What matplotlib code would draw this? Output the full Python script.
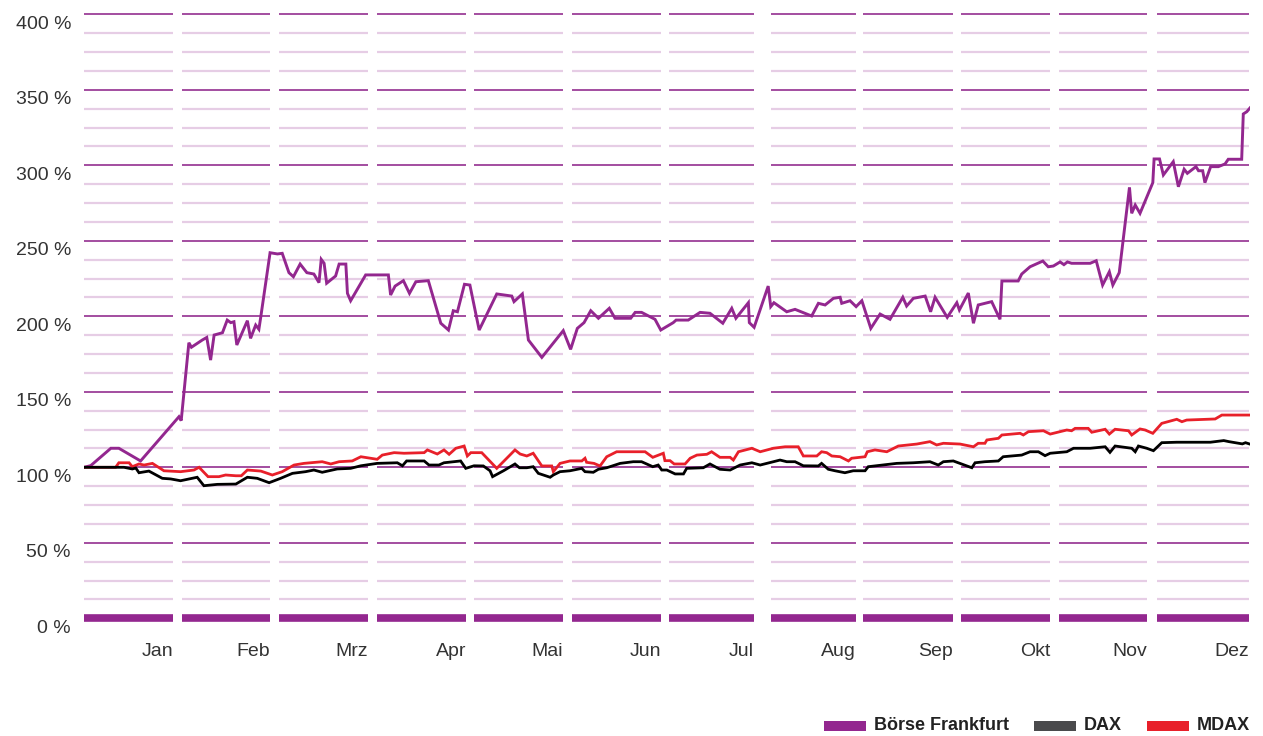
import matplotlib
matplotlib.use("Agg")
import matplotlib.pyplot as plt
from matplotlib.patches import Rectangle
from matplotlib.transforms import offset_copy

plt.rcParams["font.family"] = ["Liberation Sans", "DejaVu Sans"]

# x axis: day of the year (0..365), y axis: index level in % (start = 100 %)
MONTHS = ["Jan", "Feb", "Mrz", "Apr", "Mai", "Jun", "Jul", "Aug", "Sep", "Okt", "Nov", "Dez"]
MONTH_START = [0.0, 30.6, 61.0, 91.6, 122.0, 152.5, 183.0, 214.8, 243.8, 274.3, 305.0, 335.5]
MONTH_END = [27.8, 58.3, 88.8, 119.5, 149.7, 180.4, 209.6, 241.5, 271.7, 302.2, 332.5, 364.4]

BOERSE_DAY = [0, 2.1, 8.4, 10.9, 17.7, 29.7, 30.4, 31.3, 32.8, 33.6, 37.0, 38.4, 39.6, 40.7,
              43.3, 44.8, 45.9, 46.9, 47.8, 51.1, 52.1, 53.7, 54.7, 55.3, 58.2, 59.4, 60.5,
              62.0, 64.1, 65.5, 67.6, 69.7, 71.9, 73.5, 74.2, 75.1, 75.9, 78.7, 79.8, 81.9,
              82.4, 83.4, 88.1, 95.2, 95.9, 97.3, 99.9, 101.8, 103.8, 107.7, 111.6, 114.0,
              115.5, 116.8, 119.0, 120.7, 123.6, 129.1, 133.8, 134.5, 137.1, 139.0, 143.2,
              149.9, 152.2, 154.3, 156.4, 158.5, 160.9, 164.3, 166.1, 171.0, 172.4, 174.4,
              178.6, 180.4, 184.3, 185.2, 189.0, 192.7, 195.8, 199.8, 202.6, 203.9, 207.8,
              208.1, 209.6, 214.0, 214.8, 215.8, 219.8, 222.4, 227.6, 229.7, 231.8, 234.4,
              236.5, 237.0, 239.6, 241.5, 243.3, 246.1, 249.0, 252.1, 256.1, 257.3, 259.4,
              263.1, 264.8, 266.2, 270.0, 273.0, 273.8, 276.6, 278.2, 279.7, 283.9, 286.5,
              287.1, 292.2, 293.3, 295.9, 299.9, 301.6, 303.2, 305.3, 306.5, 307.6, 308.9,
              314.7, 316.6, 318.6, 320.7, 321.8, 323.8, 327.0, 327.7, 328.8, 330.3, 334.3,
              334.7, 336.4, 337.6, 340.7, 342.3, 344.1, 345.1, 347.8, 348.6, 349.9, 350.6,
              352.4, 354.8, 356.9, 357.9, 362.1, 362.6, 363.7, 364.7]
BOERSE_PCT = [100, 101.1, 112.6, 112.6, 104.2, 133.5, 130.9, 150, 182.5, 179.5, 184.3, 186,
              171, 187.6, 189.1, 197.5, 195.8, 196.4, 181, 197.1, 185.4, 194.2, 191.4, 199.7,
              242.1, 241.7, 241.3, 241.7, 228.9, 226.2, 234.6, 228.9, 228, 222.3, 237.7, 235.1,
              221.9, 226.7, 234.6, 234.6, 215.2, 210.3, 227.4, 227.4, 214.1, 220, 223.6, 215.2,
              222.9, 223.6, 195.4, 190.9, 203.7, 203, 221.2, 220.7, 190.9, 214.8, 213.4, 209.7,
              214.8, 184.3, 172.8, 190.5, 178.1, 192, 195.8, 203.7, 198.7, 205.3, 198.7, 198.7,
              202.6, 202.6, 198, 190.9, 195.8, 197.5, 197.5, 202.6, 202, 195.4, 205.3, 198.7,
              209, 195.8, 192.7, 220, 206.4, 209, 203, 204.6, 200.2, 208.6, 207.5, 211.9, 212.6,
              208.6, 210.3, 206.4, 210.3, 192, 201.5, 198, 212.6, 206.8, 211.9, 213.4, 203,
              212.6, 199.3, 209, 204.2, 215.4, 195.4, 207.5, 209.7, 198, 223.4, 223.4, 228,
              232.8, 236.6, 232.8, 233.3, 236, 234.2, 236, 235.1, 235.1, 236.8, 220.7, 229.5,
              220.7, 228.9, 285.4, 268.2, 273.7, 268.2, 288.5, 304.2, 304.2, 293.6, 302.4,
              285.8, 297.4, 294.7, 299.1, 296.4, 296.4, 288.5, 299.1, 299.1, 300.9, 304, 304,
              334, 335.5, 338]

DAX_DAY = [0, 12.5, 15.1, 16.2, 17.2, 20.3, 24.5, 27.1, 30.2, 35.4, 37.5, 41.7, 47.5, 51.1,
           54.2, 57.9, 61.5, 65.2, 69.3, 71.9, 74.5, 79.2, 83.4, 86.6, 91.7, 98.0, 99.6,
           100.9, 106.4, 107.9, 111.0, 112.6, 117.8, 119.4, 122.0, 124.9, 127.0, 127.8,
           131.2, 134.8, 136.2, 138.5, 140.5, 142.1, 145.8, 146.8, 148.9, 152.0, 155.7,
           156.7, 159.3, 160.9, 163.5, 167.7, 171.8, 174.4, 177.9, 179.6, 180.7, 182.3,
           184.9, 187.5, 188.5, 193.7, 195.8, 198.9, 202.1, 205.2, 208.9, 211.5, 217.7,
           219.8, 222.4, 225.0, 229.7, 230.7, 232.8, 234.9, 238.0, 240.6, 244.3, 245.3,
           254.2, 259.4, 264.6, 267.2, 268.8, 271.9, 277.7, 278.7, 281.8, 286.0, 287.5,
           293.3, 295.9, 298.5, 300.6, 302.2, 307.4, 309.5, 314.7, 319.4, 320.9, 322.5,
           327.7, 328.8, 329.8, 332.4, 334.5, 337.1, 341.8, 352.3, 356.5, 358.1, 362.3,
           363.3, 364.9]
DAX_PCT = [100, 100, 98.9, 99.5, 96.4, 97.5, 92.7, 92.3, 91.1, 93.4, 87.8, 88.7, 88.9, 93.4,
           92.7, 89.8, 92.7, 96, 97.1, 98.2, 96.7, 98.9, 99.3, 101, 102.6, 103, 101, 104.2,
           104.2, 101.5, 101.5, 103, 104.2, 99.3, 101, 100.9, 97.7, 93.8, 97.7, 102.2, 99.7,
           99.7, 100.4, 96, 93.4, 94.9, 97.1, 97.7, 99.3, 97.1, 96.7, 98.7, 99.7, 102.6,
           103.7, 103.7, 100.4, 101.5, 98.2, 98.2, 95.6, 95.6, 99.3, 99.7, 102.2, 98.7, 98.2,
           101.5, 103, 101.5, 104.8, 103.7, 103.7, 101, 100.9, 102.6, 98.7, 97.7, 96.4, 97.7,
           97.7, 100.4, 102.6, 103, 103.7, 101.5, 103.7, 104.2, 99.7, 103, 103.7, 104.2, 107,
           108.1, 110.3, 110.3, 107.7, 109.3, 110.3, 112.6, 112.6, 113.6, 109.9, 114.1, 112.6,
           110.3, 114.1, 112.6, 111, 116.3, 116.6, 116.6, 117.7, 117, 115.5, 116.3, 115.2]

MDAX_DAY = [0, 9.9, 10.9, 14.1, 15.1, 17.2, 18.8, 21.4, 25.0, 30.2, 34.4, 36.0, 38.8, 42.2,
            44.3, 47.5, 49.2, 51.1, 55.3, 58.9, 62.0, 65.7, 68.8, 74.5, 77.2, 79.8, 83.9,
            86.6, 91.7, 93.3, 97.0, 100.1, 106.4, 107.4, 110.5, 112.6, 114.2, 116.3, 118.9,
            119.9, 121.0, 124.4, 129.1, 134.8, 136.4, 138.5, 140.5, 143.2, 146.3, 146.8,
            148.9, 152.0, 155.7, 156.7, 157.2, 159.5, 161.4, 163.5, 166.6, 175.5, 177.9,
            181.2, 181.7, 183.3, 184.6, 188.0, 189.6, 191.7, 194.8, 196.3, 198.9, 202.1,
            203.1, 204.7, 208.9, 211.5, 215.6, 219.3, 223.4, 225.0, 229.2, 230.7, 232.3,
            233.9, 236.5, 239.1, 240.1, 242.7, 244.3, 245.0, 247.4, 251.1, 254.7, 260.5,
            264.6, 266.7, 268.8, 274.0, 278.2, 279.7, 281.8, 282.4, 286.0, 287.1, 292.8,
            293.8, 295.4, 300.1, 302.2, 307.4, 308.9, 310.0, 314.1, 315.2, 319.4, 320.7,
            322.5, 326.7, 327.7, 330.3, 331.9, 334.3, 337.1, 341.8, 343.4, 344.9, 353.8,
            355.9, 364.7]
MDAX_PCT = [100, 100, 103, 103, 100.4, 102.2, 101.5, 102.6, 97.7, 97.1, 98.2, 100, 93.8, 93.8,
            94.9, 94.4, 94.4, 98.2, 97.5, 94.9, 97.1, 101.5, 102.6, 103.7, 102.2, 103.7,
            104.2, 107, 105.3, 108.1, 109.7, 109.3, 109.7, 111.5, 108.8, 111.5, 108.6, 112.6,
            114.1, 107.5, 109.7, 109.7, 99.3, 111.5, 108.8, 107.5, 109.3, 100.9, 100.9, 97.1,
            102.6, 104.2, 104.2, 106, 103.3, 102.6, 100.9, 107, 110.3, 110.3, 106.6, 109.3,
            104.4, 104.4, 102.2, 102.2, 106, 108.1, 108.6, 110.3, 106.6, 106.6, 104.8, 110.3,
            112.6, 110.3, 112.6, 113.6, 113.6, 107.5, 107.5, 110.3, 109.7, 107.5, 107, 104.2,
            106, 106.6, 107, 110.3, 111.5, 110.3, 114.1, 115.4, 117, 114.8, 115.9, 115.4,
            113.6, 115.9, 115.9, 118.1, 119.2, 121.4, 122.5, 121.4, 123.6, 124.2, 122, 124.7,
            124.2, 125.8, 125.8, 123.2, 125.2, 122, 125.2, 124.2, 121.4, 125.4, 124.7, 122.5,
            129.1, 131.8, 130.2, 131.3, 132, 134.6, 134.6]

Y_MAJOR = [50, 100, 150, 200, 250, 300, 350, 400]
Y_MINOR = [v + k * 12.5 for v in range(0, 400, 50) for k in (1, 2, 3)]

PURPLE = "#93278f"
GRID_MAJOR = "#9c3f98"
GRID_MINOR = "#e6cde5"
RED = "#e8202a"
TEXT = "#333333"
DPI = 100

fig = plt.figure(figsize=(12.63, 7.36), dpi=DPI)
ax = fig.add_axes([84 / 1263, 117.7 / 736, 1166 / 1263, 604 / 736])
ax.set_xlim(0, 364.7)
ax.set_ylim(0, 400)
ax.axis("off")

# grid broken into one segment per month
for start, end in zip(MONTH_START, MONTH_END):
    ax.hlines(Y_MINOR, start, end, color=GRID_MINOR, linewidth=1.6, zorder=1)
    ax.hlines(Y_MAJOR, start, end, color=GRID_MAJOR, linewidth=1.3, zorder=1, clip_on=False)
    ax.hlines(0, start, end, color=PURPLE, linewidth=5.5, zorder=1, clip_on=False)

ax.plot(BOERSE_DAY, BOERSE_PCT, color=PURPLE, linewidth=2.1, zorder=3, solid_joinstyle="miter")
ax.plot(MDAX_DAY, MDAX_PCT, color=RED, linewidth=2.0, zorder=4, solid_joinstyle="miter")
ax.plot(DAX_DAY, DAX_PCT, color="black", linewidth=2.0, zorder=5, solid_joinstyle="miter")

ytrans = offset_copy(ax.get_yaxis_transform(), fig=fig, x=-13, y=-10, units="dots")
for v in [0] + Y_MAJOR:
    ax.text(0, v, f"{v} %", transform=ytrans, ha="right", va="center", fontsize=14, color=TEXT)

xtrans = offset_copy(ax.get_xaxis_transform(), fig=fig, x=0, y=-33, units="dots")
for name, end in zip(MONTHS, MONTH_END):
    ax.text(end, 0, name, transform=xtrans, ha="right", va="center", fontsize=14, color=TEXT)

# legend, bottom right
legend_items = [("Börse Frankfurt", PURPLE, 824), ("DAX", "#4a4a4c", 1034), ("MDAX", RED, 1147)]
for label, color, px in legend_items:
    fig.patches.append(Rectangle((px / 1263, (736 - 731) / 736), 42 / 1263, 10 / 736,
                                 transform=fig.transFigure, facecolor=color, edgecolor="none"))
    fig.text((px + 50) / 1263, (736 - 726) / 736, label, ha="left", va="center",
             fontsize=13, fontweight="bold", color="#222222")

fig.savefig("out.png", dpi=DPI)
